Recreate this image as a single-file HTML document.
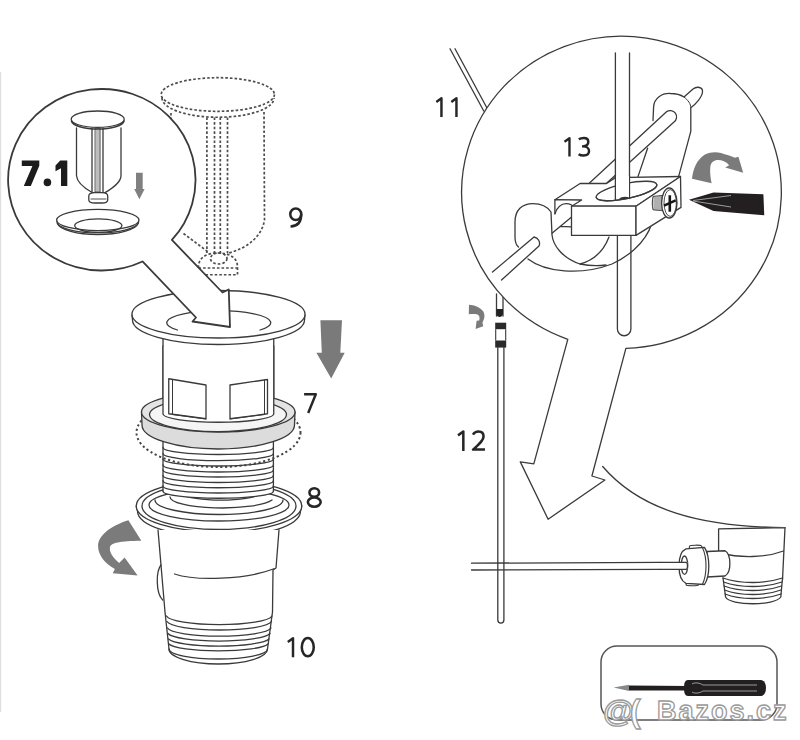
<!DOCTYPE html>
<html><head><meta charset="utf-8"><style>
html,body{margin:0;padding:0;background:#fff;width:800px;height:740px;overflow:hidden}
svg{display:block}
text{font-family:"Liberation Sans",sans-serif}
</style></head><body>
<svg width="800" height="740" viewBox="0 0 800 740">
<line x1="0.6" y1="72" x2="0.6" y2="712" stroke="#e0e0e0" stroke-width="1.2"/>
<g fill="none" stroke="#3a3a3a" stroke-width="1.3" stroke-linejoin="round" stroke-linecap="round">

<!-- ===== dashed item 9 ===== -->
<g stroke-dasharray="2.6 2" stroke-width="1.7" stroke="#4d4d4d" stroke-linecap="butt">
  <ellipse cx="217.8" cy="94.5" rx="56.6" ry="16.8"/>
  <path d="M162,98 A56,19.25 0 0 0 274,98"/>
  <path d="M171,113 L171,125"/>
  <path d="M264,112 L264.5,220 C262,236 248,248 228.5,253"/>
  <path d="M183.5,233.5 L207.5,251.5"/>
  <path d="M206.9,117.5 V253 M214.5,117.5 V253 M220.3,117.5 V253 M227.5,117.5 V253"/>
  <path d="M198.5,268 C198,258 206,253 218,253 C230,253 238,258 237.5,268 L237.5,274.75 L198.5,274.75 Z"/>
  <path d="M198.5,268 H237.5"/>
  <ellipse cx="218.75" cy="258.5" rx="8.25" ry="5.5"/>
</g>

<!-- ===== flange 7 ===== -->
<path fill="#fff" d="M163,330 L163,414 A55.4,7 0 0 0 273.75,414 L273.75,330 Z"/>
<path fill="#fff" d="M132,315 L132.5,320 A86,24.5 0 0 0 304.5,320 L305,315"/>
<ellipse cx="218.5" cy="314.25" rx="86.5" ry="23.75" fill="#fff"/>
<path d="M177.5,330 A52,12 0 1 1 260,330"/>

<!-- ===== magnifier circle 7.1 with arrow tail ===== -->
<path fill="#fff" stroke-width="1.8" d="M171.89,239.98 A93.7,90.75 0 1 0 142.5,261.49 L196,317.5 L192.5,321.5 L230,327 L228.75,289.5 L222.5,292.5 Z"/>

<!-- plunger -->
<path fill="#fff" d="M76.5,128 L76.5,175.7 C77,183 86,189 92.5,192.7 L104.9,192.7 C111,189 121,183 121,175.7 L121,128"/>
<path d="M92,128 V192 M103,128 V192"/>
<rect x="95.4" y="128" width="4.7" height="64" fill="#bdbdbd" stroke-width="0.8"/>
<path fill="#fff" d="M88.8,196 C88.8,193 92,192.7 95,192.7 L102,192.7 C105,192.7 107.7,193 107.7,196 L107.7,200 C107.7,202.5 105,203 102,203 L95,203 C92,203 88.8,202.5 88.8,200 Z"/>
<path d="M91,199 H106" stroke-width="0.9"/>
<ellipse cx="97.7" cy="119.2" rx="26.5" ry="8.2" fill="#fff"/>
<path d="M71.5,121 A26.3,8.6 0 0 0 124,121" stroke-width="1.6"/>
<!-- saucer -->
<ellipse cx="97.8" cy="220" rx="41.2" ry="10.6"/>
<path d="M56.8,221.5 A41,11.5 0 0 0 138.8,221.5" stroke-width="1.2"/>
<path d="M57.5,223.5 A40.5,12.5 0 0 0 138,223.5" stroke-width="1.4"/>
<ellipse cx="98.3" cy="225.6" rx="23.6" ry="6.8"/>
<!-- 7.1 label -->
<path fill="#1c1c1c" stroke="none" d="M21.8,160.5 H39.3 V165.8 L30.8,185.9 H23.8 L32.4,166 H21.8 Z M60.2,160.5 H67.3 V185.9 H61 V168.2 L55.5,171.2 V165.6 Z"/><circle cx="47.4" cy="182.4" r="3.8" fill="#1c1c1c" stroke="none"/>
</g>

<!-- gray small arrow -->
<path fill="#808080" d="M136,172.8 H142.7 V189 H144.6 L139.4,199.3 L134.2,189 H136 Z"/>

<!-- ===== big gray down arrow ===== -->
<path fill="#7a7a7a" d="M320.4,320.3 H342 L340.3,352.7 H344.7 L331.2,378.4 L316.4,352.7 H321.8 Z"/>

<g fill="none" stroke="#3a3a3a" stroke-width="1.3" stroke-linejoin="round" stroke-linecap="round">
<!-- ===== nut 8 ===== -->
<path d="M136.25,506 L137.5,511 A81.5,26.5 0 0 0 300.5,511 L301.75,506" fill="#fff"/>
<ellipse cx="219" cy="506" rx="82.75" ry="26" fill="#fff"/>
<ellipse cx="219" cy="506" rx="77" ry="23.5"/>
<ellipse cx="219" cy="505" rx="70" ry="16"/>
<path d="M155,500 A64,14.5 0 0 0 283,500"/>
<path d="M170,497 A52,11 0 0 0 272,500"/>
<path d="M182,494 A40,8 0 0 0 260,494"/>
<!-- ===== threads ===== -->
<path fill="#fff" d="M163,440 L163,491 A55.2,7 0 0 0 273.4,491 L273.4,440 Z" stroke="none"/>
<path d="M163,440 V491 M273.4,440 V491"/>
<path d="M163,447.5 A55.2,7 0 0 0 273.4,447.5"/>
<path d="M163,453.6 A55.2,7 0 0 0 273.4,453.6"/>
<path d="M163,459 A55.2,7 0 0 0 273.4,459"/>
<path d="M163,465 A55.2,7 0 0 0 273.4,465"/>
<path d="M163,470 A55.2,7 0 0 0 273.4,470"/>
<path d="M163,475.5 A55.2,7 0 0 0 273.4,475.5"/>
<path d="M163,480.75 A55.2,7 0 0 0 273.4,480.75"/>
<path d="M163,486 A55.2,7 0 0 0 273.4,486"/>
<path d="M163,491.25 A55.2,7 0 0 0 273.4,491.25"/>

<!-- dashed washer outline -->
<ellipse cx="218.5" cy="432.5" rx="82" ry="34.5" stroke-dasharray="2.2 2.6" stroke-width="2" stroke-linecap="butt" stroke="#444"/>

<!-- ===== gasket ring ===== -->
<path fill="#dcdcdc" d="M141.5,412 L142,425 A76.25,24 0 0 0 294.5,425 L295,412 Z"/>
<ellipse cx="218.25" cy="412" rx="76.75" ry="20" fill="#e4e4e4"/>
<ellipse cx="218" cy="414.6" rx="68.5" ry="17" fill="#f5f5f5"/>

<!-- ===== body 7 ===== -->
<path fill="#fff" d="M163,346 L163,414 A55.4,8.5 0 0 0 273.75,414 L273.75,346"/>
<path d="M168.75,378.75 L206,385 L206,418.75 L168.75,413.75 Z"/>
<path d="M172.5,380 V414.5 L206,419" stroke-width="1"/>
<path d="M230,385 L267.5,379.5 L267.5,413.75 L230,418.75 Z"/>
<path d="M264.5,380 V414.5 L230,419" stroke-width="1"/>

<!-- ===== tailpiece 10 ===== -->
<path fill="#fff" d="M158,530 L165,612 L169,649 A49.25,15 0 0 0 267.5,649 L272.5,612 L273,570 L276,568 L279,530"/>
<path d="M174.5,574 C195,581 245,580 274,568.75"/>
<path d="M161,565 C156,571 155.5,593 162.7,600"/>
<path d="M166.5,616 A53,9.6 0 0 0 272,616"/>
<path d="M167,621.5 A52.5,9.4 0 0 0 271.5,621.5"/>
<path d="M167.5,628 A52,9 0 0 0 271,628"/>
<path d="M168,633.5 A51.5,8.75 0 0 0 270,633.5"/>
<path d="M168.5,639 A51,8.5 0 0 0 269,639"/>
<path d="M169,644 A50,8 0 0 0 268,644"/>
<path d="M169,649 A49.25,10 0 0 0 267.5,649"/>
</g>

<!-- gray curved arrow left -->
<path fill="#7b7b7b" d="M128.4,520.3 C110,526 98,536 98.1,546 C98,556 106,564 114.9,569 L112.7,573.2 L137.6,575.4 L124.6,557.6 L119.2,563 C113,558 109,552 110,547 C111,543 120,541 141.35,540.8 Z"/>


<!-- ===== RIGHT SIDE ===== -->
<g fill="none" stroke="#3a3a3a" stroke-width="1.3" stroke-linejoin="round" stroke-linecap="round">
<!-- cable 11 -->
<path d="M450,48.75 L483.75,111 M455,48.75 L487.5,109"/>
<!-- rod 12 -->
<path d="M496.5,294 V316"/>
<path d="M503,297 V316"/>
<path d="M497.8,347.6 V620 A3,3 0 0 0 503.9,620 V347.6"/>
<path d="M471.5,563.2 L660,562.3 M471.5,570 L660,569.3"/>

<!-- tub curve -->
<path d="M602.7,466.5 C640,510 700,527 785,527.6"/>

<!-- drain fitting -->
<path fill="#fff" d="M718.6,528.9 L785,527.6 L782.5,594.5 L718.6,594.5 Z" stroke="none"/>
<path d="M718.6,528.9 L785,527.6 M718.6,528.9 V560 M785,527.6 L782.5,580"/>
<path d="M720,553 C740,558 765,558 783.5,551"/>
<path fill="#fff" d="M723,578 L725.6,597 C730,606 775,606 780.8,597 L782.5,578"/>
<path d="M723,578 C740,584 765,584 782.5,578 M723.5,582 C740,588 765,588 782,582 M724,586 C740,592 765,592 781.5,586 M724.5,590 C740,596 765,596 781,590 M725,594 C740,600 765,600 781,594"/>
<path fill="#fff" d="M707,551.5 L725,550.75 C731,554 732,572 725,576 L707,577 Z"/>
<path fill="#fff" d="M689.25,549 L689.5,546 C690,545 701,544.8 701.5,546 L702.4,548 Z M686,583 L686.2,585 C686.5,586 698,586 698.5,585 L699,582.5 Z" stroke-width="1.1"/>
<path fill="#fff" d="M686,548.8 C681,551 679,558 679,566 C679,574 681,581 686,583.3 L704.5,584.5 C707.5,580 708.8,573 708.8,566 C708.8,559 707.5,552 704.5,547.3 Z"/>
<path d="M702.5,547.8 C705,553 706,560 706,566 C706,572 705,579 702.5,584.2" stroke-width="1.1"/>
<ellipse cx="684.5" cy="565.2" rx="3.2" ry="9.2"/>
<path fill="#fff" d="M660,562.3 H687.5 V569.3 H660 Z" stroke="none"/>
<path d="M660,562.3 H686 C688,562.3 688,569.3 686,569.3 H660" />
</g>

<!-- big magnifier circle right with arrow -->
<g fill="none" stroke="#3a3a3a" stroke-width="1.3" stroke-linejoin="round" stroke-linecap="round">
<path fill="#fff" d="M625.89,348.32 L591.9,476 L604.9,480 L548.1,519.2 L520.3,461.9 L533.8,463.8 L567.8,339.31 A159.85,156.13 0 1 1 625.89,348.32 Z"/>

<!-- lever upper -->
<path d="M589.5,183 L666.5,111.8 A6.3,6.3 0 0 1 674,122 L606.8,183"/>
<path d="M647.6,148.2 L638,176.6"/>
<!-- lug -->
<path d="M653,120.5 L653.6,107 C654,98 662,93 670.5,93.5 C676,93.5 681,95 684,97 L693,89 C697,86 703,87 702.5,92 C702,97 696,104 690.8,107.7 L690.8,131.4 L678.6,176.6"/>
<path d="M684,97 C688,100 691,104 690.8,107.7" stroke-width="1"/>
<!-- vertical rod (in front of lever) -->
<path fill="#fff" d="M615.4,53 V200 H629.5 V53"/>
<path fill="#fff" d="M617.4,235 V329 A6.75,6.75 0 0 0 630.9,329 V218"/>

<!-- left bulb + lower rod -->
<path d="M518.5,247 C516,245 515,242 515,237 L515,222 C515,210 522,203.6 533,203.6 C540,203.6 547,206 551,212 L552,235 C553,245 562,258 580,264 C590,266 598,266 606,265"/>
<path d="M528,259 C545,272 580,276 612,264 C625,258 645,245 652,223"/>
<path d="M609,237 C604,250 595,260 580,264"/>
<path fill="#fff" d="M492.5,272 L534,237 A6.5,6.5 0 0 1 539,246 L501.5,280"/>

<!-- block -->
<path fill="#fff" stroke="none" d="M554.9,199.7 L580.1,183.5 L606.6,183.5 L615.3,177.6 L680.5,176.5 L681,207.4 L636,235.4 L571.5,235.4 L571.5,232 L554.9,232 Z"/>
<path d="M554.9,199.7 L580.1,183.5 L606.6,183.5 L615.3,177.6 L680.5,176.5 L636,206.2 L571.5,206.2"/>
<path d="M554.9,213.8 V199.7 L581.6,200 L572,206"/>
<path d="M554.9,213.8 C557,208 561,203.7 566,203.7 C568,203.7 570,204.2 571.6,205"/>
<path d="M552.3,233 L571.6,217 M560,226.4 L571.6,226.8"/>
<g transform="rotate(-12 626.5 191)"><ellipse cx="626.5" cy="191" rx="31" ry="7.5" fill="#fff"/></g>
<path fill="#fff" d="M615.4,176 V199.5 M629.5,176 V198.5" />
<path fill="#fff" stroke="none" d="M616,176 H629 V198.5 H616 Z"/>
<g transform="rotate(-12 626.5 191)"><path d="M595.5,191 A31,7.5 0 0 0 657.5,191"/></g>
<path fill="#333" stroke="none" d="M619,199 C621,196.5 626,196 629,197.5 L628,199 Z"/>
<rect x="571.5" y="206.2" width="64.5" height="29.2" fill="#fff"/>
<path d="M636,206.2 L680.5,176.5 L681,207.4 L636,235.4 Z" fill="#fff"/>

<!-- screw -->
<path fill="#c8c8c8" d="M653,196.8 C652,200 652,206 653,209.8 L663,210.7 L663,195.8 Z" stroke-width="1"/>
<path d="M655,197 V209.8 M657,196.8 V210 M659,196.5 V210.2 M661,196.2 V210.5" stroke="#8a8a8a" stroke-width="0.8"/>
<ellipse cx="669.3" cy="203" rx="7.7" ry="15" fill="#fff"/>
<ellipse cx="670.2" cy="203" rx="6.2" ry="13.4" stroke-width="0.9"/>
<path d="M669.8,195.3 V211.7 M664,205.6 L675.7,200.4" stroke="#151515" stroke-width="2.6" stroke-linecap="butt"/>
</g>

<!-- gray curved arrow right -->
<path fill="#7b7b7b" d="M692,178.8 C693,170 696,160 705,154.5 C710,152 716,151.5 721,153 C726,154.5 731,156 735,157.8 L738.4,156.8 L743.2,172.8 L725.2,167.6 L729.2,165.2 C726,161.5 722,160 718,160 C714,160 711,162 710.3,167 C709.8,172 710.5,178 711.6,183.2 Z"/>

<!-- screwdriver bit -->
<path fill="#231f20" d="M689,199.85 L713.5,192.5 L763.4,194.25 L764.25,215.25 L713.5,210.9 Z"/>
<path d="M693,200.5 L731,195.5 M693,201 L731,207" stroke="#aaa" stroke-width="0.9" fill="none"/>

<!-- small gray arrow near rod 12 -->
<path fill="#7b7b7b" d="M469,304.7 C474,305 480,307 483,311 C485,314 485,318 482.5,322.5 L483.2,326.3 L475.6,328.9 L476.6,320.8 L479.2,320.5 C480,317.5 479.5,315.5 477.5,314.5 C475,313.8 472,314 468.75,314.2 Z"/>
<!-- rod connector -->
<path fill="#222" d="M496.5,309 H503 V313.5 C503,316 501,317 499.7,317 C498,317 496.5,316 496.5,313.5 Z"/>
<rect x="495.2" y="322.7" width="11" height="6.5" fill="#2a2a2a"/>
<rect x="495.2" y="340.5" width="11" height="7.1" fill="#2a2a2a"/>
<path d="M495.7,329.2 V340.5 M505.7,329.2 V340.5" stroke="#3a3a3a" stroke-width="1.1"/>

<!-- screwdriver box -->
<rect x="601" y="646" width="176" height="74" rx="16" fill="none" stroke="#555" stroke-width="1.5"/>
<path fill="#231f20" d="M688,680 H760 C764,680 766,683 766,688 C766,693 764,696 760,696 H688 C685,696 684,693 684,688 C684,683 685,680 688,680 Z"/>
<path d="M629,685.5 L688,686 L688,690.5 L629,690.5 Z" fill="#231f20"/>
<path d="M613.6,687.5 L629,684.8 L629,691 Z" fill="#888"/>
<path d="M692,684 C695,682 700,683 703,685 H757 M692,692 C695,694 700,693 703,691 H757" stroke="#bbb" stroke-width="0.8" fill="none"/>

<!-- labels -->
<g fill="none" stroke="#262626" stroke-width="2.45" stroke-linecap="butt" stroke-linejoin="round">
<g transform="translate(289 207.2) scale(1.025)"><ellipse cx="6.6" cy="6.9" rx="5.35" ry="5.65"/><path d="M11.95,6.9 C11.95,14.5 8.5,18.6 1.5,18.75"/></g>
<g transform="translate(303.8 393) scale(1.0)"><path d="M0.3,1.25 H12 L4.4,20"/></g>
<g transform="translate(306.4 487) scale(1.05)"><ellipse cx="7.5" cy="5.3" rx="4.6" ry="4.05"/><ellipse cx="7.5" cy="14.4" rx="6.1" ry="4.35"/></g>
<g transform="translate(287 637) scale(1.01)"><path d="M0.8,4.9 L5.95,1.25 V20"/></g>
<g transform="translate(300.5 636.75) scale(1.04)"><ellipse cx="7" cy="10" rx="5.75" ry="8.75"/></g>
<g transform="translate(435.5 97) scale(1.0)"><path d="M0.8,4.9 L5.95,1.25 V20"/></g>
<g transform="translate(450.5 97) scale(1.0)"><path d="M0.8,4.9 L5.95,1.25 V20"/></g>
<g transform="translate(457.2 430.3) scale(1.03)"><path d="M0.8,4.9 L5.95,1.25 V20"/></g>
<g transform="translate(471.6 430.3) scale(1.03)"><path d="M1.3,4.2 C2.6,2.2 4.6,1.25 6.8,1.25 C9.9,1.25 11.6,3.3 11.6,5.9 C11.6,9.2 9,12 1.4,18.75 H13"/></g>
<g transform="translate(563.7 137) scale(0.97)"><path d="M0.8,4.9 L5.95,1.25 V20"/></g>
<g transform="translate(577.8 136.75) scale(1.0)"><path d="M1.0,2.6 C2.3,1.7 4.3,1.25 6.1,1.25 C9.2,1.25 10.5,3 10.5,5.1 C10.5,7.9 8.2,9.6 5,9.6 H4.2 M5,9.6 C8.8,9.6 11.25,11.6 11.25,14.3 C11.25,17.3 8.8,18.75 5.8,18.75 C3.8,18.75 2,18.2 0.8,17.4"/></g>
</g>
<!-- watermark -->
<g font-weight="bold" fill="#fff" stroke="#9a9a9a" stroke-width="1.3" font-family="Liberation Sans, sans-serif">
<text x="603" y="722" font-size="32">@</text>
<text x="630" y="722" font-size="32">(</text>
<text x="657" y="720" font-size="27" letter-spacing="2">Bazos.cz</text>
</g>
</svg>
</body></html>
